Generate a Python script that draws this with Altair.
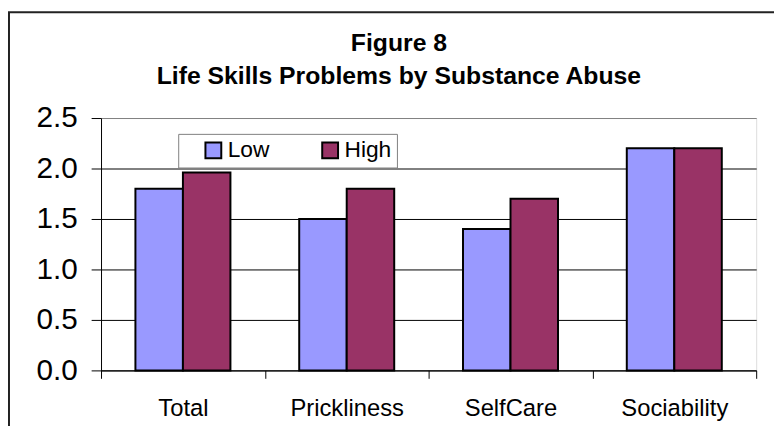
import altair as alt
import pandas as pd

categories = ["Total", "Prickliness", "SelfCare", "Sociability"]
series = ["Low", "High"]
low_values = [1.8, 1.5, 1.4, 2.2]
high_values = [1.96, 1.8, 1.7, 2.2]
y_ticks = [0.0, 0.5, 1.0, 1.5, 2.0, 2.5]
colors = ["#9999FF", "#993366"]
title_lines = ["Figure 8", "Life Skills Problems by Substance Abuse"]

rows = []
for c, lo, hi in zip(categories, low_values, high_values):
    rows.append({"category": c, "series": "Low", "value": lo})
    rows.append({"category": c, "series": "High", "value": hi})
df = pd.DataFrame(rows)

FONT = "Liberation Sans"

bars = alt.Chart(df).mark_bar(stroke="black", strokeWidth=2).encode(
    x=alt.X(
        "category:N",
        sort=categories,
        scale=alt.Scale(paddingInner=0, paddingOuter=0),
        axis=alt.Axis(
            title=None,
            labelAngle=0,
            labelFont=FONT,
            labelFontSize=24,
            labelColor="black",
            labelPadding=19,
            tickBand="extent",
            tickSize=8,
            tickColor="black",
            domainColor="black",
            grid=False,
        ),
    ),
    xOffset=alt.XOffset(
        "series:N", sort=series, scale=alt.Scale(paddingInner=0, paddingOuter=0.724)
    ),
    y=alt.Y(
        "value:Q",
        scale=alt.Scale(domain=[0, 2.5], nice=False),
        axis=alt.Axis(
            title=None,
            values=y_ticks,
            format=".1f",
            labelFont=FONT,
            labelFontSize=30,
            labelColor="black",
            labelPadding=14,
            tickSize=10,
            tickColor="black",
            domainColor="black",
            grid=True,
            gridColor=alt.condition("datum.value >= 2.5", alt.value("#808080"), alt.value("black")),
            gridWidth=1,
        ),
    ),
    color=alt.Color(
        "series:N",
        sort=series,
        scale=alt.Scale(domain=series, range=colors),
        legend=alt.Legend(
            title=None,
            orient="none",
            legendX=78,
            legendY=16,
            direction="horizontal",
            fillColor="white",
            strokeColor="#808080",
            padding=5,
            symbolType="square",
            symbolSize=256,
            symbolStrokeColor="black",
            symbolStrokeWidth=2,
            symbolOpacity=1,
            symbolOffset=19,
            labelFont=FONT,
            labelFontSize=23,
            labelColor="black",
            labelOffset=3,
            columnPadding=30,
            labelExpr="datum.label == 'High' ? 'High      ' : datum.label",
        ),
    ),
)

frame = alt.Chart(pd.DataFrame({"k": [0]})).mark_rect(
    fill="transparent", stroke="#222222", strokeWidth=2
).encode(
    x=alt.value(-93), x2=alt.value(720), y=alt.value(-107), y2=alt.value(420)
)

chart = alt.layer(frame, bars).properties(
    width=662,
    height=255,
    padding={"left": 94, "top": 109, "right": 18, "bottom": 54},
    autosize=alt.AutoSizeParams(type="none"),
    title=alt.TitleParams(
        text=title_lines,
        font=FONT,
        fontSize=25,
        fontWeight="bold",
        color="black",
        lineHeight=34,
        anchor="middle",
        frame="group",
        dx=-30,
        offset=0,
        dy=79,
    ),
).configure_view(
    fill="#C0C0C0", stroke="#808080", strokeWidth=2
).configure(background="white")

chart.save("out.html", embed_options={"renderer": "svg", "actions": False})
